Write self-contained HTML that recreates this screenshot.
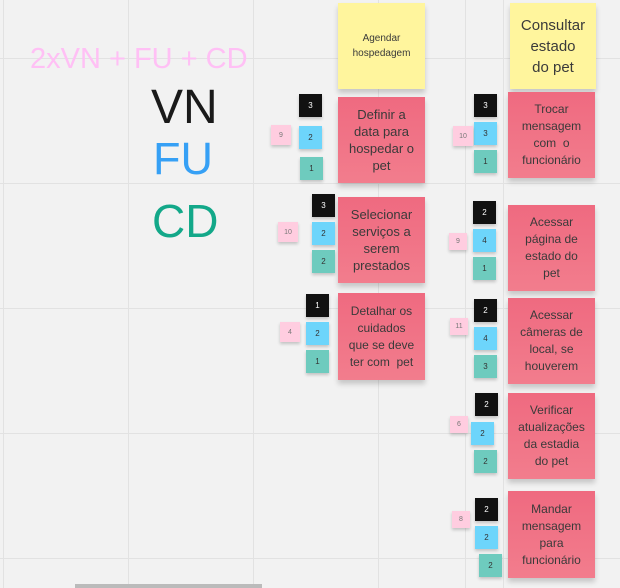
<!DOCTYPE html>
<html><head><meta charset="utf-8"><style>
body{margin:0;width:620px;height:588px;background:#f2f2f2;position:relative;overflow:hidden;font-family:"Liberation Sans",sans-serif}
.v{position:absolute;top:0;width:1px;height:588px;background:#e2e2e2}
.h{position:absolute;left:0;height:1px;width:620px;background:#e2e2e2}
.n{position:absolute;display:flex;align-items:center;justify-content:center;text-align:center;color:#3a3a3a;font-size:13px;line-height:17px;box-shadow:0 4px 5px rgba(0,0,0,.18);box-sizing:border-box;padding:0 2px}
.y{background:#fff59d}
.r{background:linear-gradient(#ef6a80,#f27d8d);}
.s{position:absolute;width:23px;height:23px;display:flex;align-items:center;justify-content:center;font-size:8px;box-shadow:0 2px 3px rgba(0,0,0,.2)}
.k{background:#111;color:#fff}
.b{background:#6dd5fb;color:#333}
.t{background:#6ecbbe;color:#333}
.p{background:#ffcde0;color:#777;width:20px;height:20px;font-size:7px}
.big{position:absolute;white-space:nowrap;line-height:1}
</style></head><body>
<div class="v" style="left:3px"></div><div class="v" style="left:128px"></div><div class="v" style="left:253px"></div><div class="v" style="left:378px"></div><div class="v" style="left:465px"></div><div class="v" style="left:503px"></div>
<div class="h" style="top:58px"></div><div class="h" style="top:183px"></div><div class="h" style="top:308px"></div><div class="h" style="top:433px"></div><div class="h" style="top:558px"></div>
<div style="position:absolute;left:75px;top:584px;width:187px;height:4px;background:#bbb"></div>

<div class="big" style="left:30px;top:45px;font-size:29px;color:#ffc0f5">2xVN + FU + CD</div>
<div class="big" style="left:151px;top:84px;font-size:48px;color:#1a1a1a">VN</div>
<div class="big" style="left:153px;top:136px;font-size:45px;color:#36a0f5">FU</div>
<div class="big" style="left:152px;top:198px;font-size:46px;color:#13a889">CD</div>

<div class="n y" style="left:338px;top:3px;width:87px;height:86px;font-size:10px;line-height:15px">Agendar<br>hospedagem</div>
<div class="n y" style="left:510px;top:3px;width:86px;height:86px;font-size:15px;line-height:21px">Consultar<br>estado<br>do pet</div>

<div class="n r" style="left:338px;top:97px;width:87px;height:86px">Definir a<br>data para<br>hospedar o<br>pet</div>
<div class="n r" style="left:338px;top:197px;width:87px;height:86px">Selecionar<br>serviços a<br>serem<br>prestados</div>
<div class="n r" style="left:338px;top:293px;width:87px;height:87px;font-size:12px">Detalhar os<br>cuidados<br>que se deve<br>ter com &nbsp;pet</div>

<div class="n r" style="left:508px;top:92px;width:87px;height:86px;font-size:12px">Trocar<br>mensagem<br>com &nbsp;o<br>funcionário</div>
<div class="n r" style="left:508px;top:205px;width:87px;height:86px;font-size:12px">Acessar<br>página de<br>estado do<br>pet</div>
<div class="n r" style="left:508px;top:298px;width:87px;height:86px;font-size:12px">Acessar<br>câmeras de<br>local, se<br>houverem</div>
<div class="n r" style="left:508px;top:393px;width:87px;height:86px;font-size:12px">Verificar<br>atualizações<br>da estadia<br>do pet</div>
<div class="n r" style="left:508px;top:491px;width:87px;height:87px;font-size:12px">Mandar<br>mensagem<br>para<br>funcionário</div>

<div class="s k" style="left:299px;top:94px">3</div><div class="s b" style="left:299px;top:126px">2</div><div class="s t" style="left:300px;top:157px">1</div><div class="s p" style="left:271px;top:125px">9</div>
<div class="s k" style="left:312px;top:194px">3</div><div class="s b" style="left:312px;top:222px">2</div><div class="s t" style="left:312px;top:250px">2</div><div class="s p" style="left:278px;top:222px">10</div>
<div class="s k" style="left:306px;top:294px">1</div><div class="s b" style="left:306px;top:322px">2</div><div class="s t" style="left:306px;top:350px">1</div><div class="s p" style="left:280px;top:322px">4</div>

<div class="s k" style="left:474px;top:94px">3</div><div class="s b" style="left:474px;top:122px">3</div><div class="s t" style="left:474px;top:150px">1</div><div class="s p" style="left:453px;top:126px">10</div>
<div class="s k" style="left:473px;top:201px">2</div><div class="s b" style="left:473px;top:229px">4</div><div class="s t" style="left:473px;top:257px">1</div><div class="s p" style="left:449px;top:233px;width:18px;height:17px">9</div>
<div class="s k" style="left:474px;top:299px">2</div><div class="s b" style="left:474px;top:327px">4</div><div class="s t" style="left:474px;top:355px">3</div><div class="s p" style="left:450px;top:318px;width:18px;height:17px">11</div>
<div class="s k" style="left:475px;top:393px">2</div><div class="s b" style="left:471px;top:422px">2</div><div class="s t" style="left:474px;top:450px">2</div><div class="s p" style="left:450px;top:416px;width:18px;height:17px">6</div>
<div class="s k" style="left:475px;top:498px">2</div><div class="s b" style="left:475px;top:526px">2</div><div class="s t" style="left:479px;top:554px">2</div><div class="s p" style="left:452px;top:511px;width:18px;height:17px">8</div>
</body></html>
